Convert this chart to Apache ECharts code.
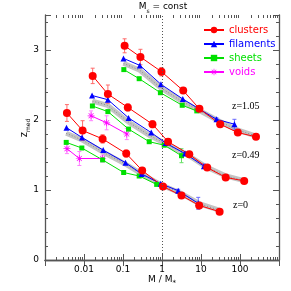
<!DOCTYPE html>
<html><head><meta charset="utf-8">
<script src="https://cdn.jsdelivr.net/npm/echarts@6/dist/echarts.min.js"></script>
<style>html,body{margin:0;padding:0;background:#fff}#c{width:291px;height:291px}</style>
</head><body><div id="c"></div>
<script>
// ---- data (M / M*, z_med, error) ----
const clusters_z105_M = [0.11, 0.28, 0.97, 3.5, 9.1, 31, 88, 257];
const clusters_z105_z = [3.06, 2.90, 2.69, 2.42, 2.16, 1.94, 1.82, 1.76];
const clusters_z105_e = [0.10, 0.11, 0.06, 0.04, 0.03, 0.02, 0.02, 0.02];
const filaments_z105_M = [0.103, 0.27, 0.94, 3.42, 8.8, 25, 72];
const filaments_z105_z = [2.88, 2.78, 2.51, 2.30, 2.16, 2.01, 1.94];
const filaments_z105_e = [0, 0, 0, 0, 0, 0.02, 0.07];
const sheets_z105_M = [0.105, 0.26, 0.91, 3.3, 7.8];
const sheets_z105_z = [2.72, 2.59, 2.39, 2.21, 2.13];
const sheets_z105_e = [0, 0, 0, 0, 0];
const band_z105_M = [0.103, 0.27, 0.93, 3.4, 8.8, 25.7, 75, 260];
const band_z105_z = [2.81, 2.71, 2.46, 2.26, 2.14, 2.00, 1.87, 1.77];

const clusters_z049_M = [0.0167, 0.041, 0.133, 0.57, 1.43, 5.0, 14.4, 43, 128];
const clusters_z049_z = [2.63, 2.37, 2.18, 1.94, 1.69, 1.51, 1.32, 1.18, 1.13];
const clusters_z049_e = [0.11, 0.13, 0.05, 0.05, 0.03, 0.02, 0.02, 0.02, 0.02];
const filaments_z049_M = [0.0161, 0.041, 0.139, 0.53, 1.25, 3.9, 11.9];
const filaments_z049_z = [2.35, 2.29, 2.03, 1.82, 1.67, 1.52, 1.34];
const filaments_z049_e = [0, 0, 0, 0, 0, 0, 0.03];
const sheets_z049_M = [0.0164, 0.041, 0.139, 0.47, 1.14, 3.16];
const sheets_z049_z = [2.20, 2.12, 1.87, 1.69, 1.64, 1.49];
const sheets_z049_e = [0, 0, 0, 0, 0, 0.10];
const voids_z049_M = [0.0152, 0.038, 0.125];
const voids_z049_z = [2.06, 1.96, 1.80];
const voids_z049_e = [0.07, 0.10, 0.08];
const band_z049_M = [0.0164, 0.04, 0.139, 0.51, 1.25, 4.6, 13.4, 44, 135];
const band_z049_z = [2.27, 2.21, 1.97, 1.77, 1.66, 1.50, 1.33, 1.20, 1.13];

const clusters_z0_M = [0.00365, 0.0092, 0.030, 0.121, 0.31, 1.06, 3.16, 9.0, 30];
const clusters_z0_z = [2.10, 1.85, 1.73, 1.52, 1.28, 1.05, 0.92, 0.78, 0.69];
const clusters_z0_e = [0.12, 0.14, 0.06, 0.05, 0.04, 0.02, 0.02, 0.02, 0.02];
const filaments_z0_M = [0.00356, 0.0089, 0.031, 0.116, 0.30, 0.93, 2.6, 8.5];
const filaments_z0_z = [1.89, 1.75, 1.57, 1.39, 1.23, 1.09, 0.99, 0.81];
const filaments_z0_e = [0, 0, 0, 0, 0, 0, 0.02, 0.085];
const sheets_z0_M = [0.0035, 0.0088, 0.030, 0.104, 0.26, 0.73];
const sheets_z0_z = [1.68, 1.60, 1.43, 1.25, 1.20, 1.08];
const sheets_z0_e = [0, 0, 0, 0, 0, 0];
const voids_z0_M = [0.00365, 0.0076, 0.030];
const voids_z0_z = [1.59, 1.45, 1.45];
const voids_z0_e = [0.07, 0.10, 0.05];
const band_z0_M = [0.0035, 0.0093, 0.031, 0.116, 0.30, 0.98, 2.86, 9.4, 30.6];
const band_z0_z = [1.81, 1.71, 1.54, 1.37, 1.23, 1.07, 0.96, 0.80, 0.71];

const xMajorTicks = [0.001, 0.01, 0.1, 1, 10, 100, 1000];
const xTickLabels = [0.01, 0.1, 1, 10, 100];
const yTickLabels = [0, 1, 2, 3];
const redshiftLabels = ['z=1.05', 'z=0.49', 'z=0'];
const legendNames = ['clusters', 'filaments', 'sheets', 'voids'];

// ---- build ----
const FONT = 'DejaVu Sans';
const SERIF = 'Liberation Serif';
const xMinorTicks = [];
for (let d = -3; d < 3; d++) for (let k = 2; k <= 9; k++) xMinorTicks.push(+(k * Math.pow(10, d)).toPrecision(3));

const asterisk = 'path://M-0.8,-8L0.8,-8L0.8,8L-0.8,8Z M-8,-0.8L8,-0.8L8,0.8L-8,0.8Z M-6.2,-5.1L-5.1,-6.2L6.2,5.1L5.1,6.2Z M5.1,-6.2L6.2,-5.1L-5.1,6.2L-6.2,5.1Z';

const types = {
  voids:     {color: '#ff00ff', err: '#ff80ff', symbol: asterisk, size: 7},
  sheets:    {color: '#00e000', err: '#66e066', symbol: 'rect', size: 5},
  filaments: {color: '#0000ff', err: '#6a6aff', symbol: 'triangle', size: 6},
  clusters:  {color: '#ff0000', err: '#ff6a6a', symbol: 'circle', size: 8}
};
const sets = {
  voids: [[voids_z049_M, voids_z049_z, voids_z049_e], [voids_z0_M, voids_z0_z, voids_z0_e]],
  sheets: [[sheets_z105_M, sheets_z105_z, sheets_z105_e], [sheets_z049_M, sheets_z049_z, sheets_z049_e], [sheets_z0_M, sheets_z0_z, sheets_z0_e]],
  filaments: [[filaments_z105_M, filaments_z105_z, filaments_z105_e], [filaments_z049_M, filaments_z049_z, filaments_z049_e], [filaments_z0_M, filaments_z0_z, filaments_z0_e]],
  clusters: [[clusters_z105_M, clusters_z105_z, clusters_z105_e], [clusters_z049_M, clusters_z049_z, clusters_z049_e], [clusters_z0_M, clusters_z0_z, clusters_z0_e]]
};
const bands = [[band_z105_M, band_z105_z], [band_z049_M, band_z049_z], [band_z0_M, band_z0_z]];

function renderErr(params, api) {
  const x = api.value(0), lo = api.value(1), hi = api.value(2);
  const p1 = api.coord([x, lo]), p2 = api.coord([x, hi]);
  const cap = 2;
  const style = {stroke: api.visual('color'), lineWidth: 1, fill: null};
  return {type: 'group', children: [
    {type: 'line', shape: {x1: p1[0], y1: p1[1], x2: p2[0], y2: p2[1]}, style},
    {type: 'line', shape: {x1: p1[0] - cap, y1: p1[1], x2: p1[0] + cap, y2: p1[1]}, style},
    {type: 'line', shape: {x1: p2[0] - cap, y1: p2[1], x2: p2[0] + cap, y2: p2[1]}, style}
  ]};
}

const series = [];
bands.forEach(([M, z]) => {
  series.push({type: 'line', name: 'band', data: M.map((m, i) => [m, z[i]]), symbol: 'none', silent: true,
    lineStyle: {color: '#c4c4c4', width: 5}, z: 1});
  series.push({type: 'line', name: 'band2', data: M.map((m, i) => [m, z[i]]), symbol: 'none', silent: true,
    lineStyle: {color: '#8a8a8a', width: 1, type: [1, 2]}, z: 1});
});
Object.keys(types).forEach(t => {
  const st = types[t];
  sets[t].forEach(([M, z, e]) => {
    const errData = [];
    M.forEach((m, i) => { if (e[i] > 0) errData.push([m, z[i] - e[i], z[i] + e[i]]); });
    if (errData.length) series.push({type: 'custom', name: 'err-' + t, data: errData, renderItem: renderErr,
      itemStyle: {color: st.err}, silent: true, z: 2});
    series.push({type: 'line', name: t, data: M.map((m, i) => [m, z[i]]), symbol: st.symbol, symbolSize: st.size,
      showAllSymbol: true, itemStyle: {color: st.color}, lineStyle: {color: st.color, width: 1}, z: 3});
  });
});
series[series.length - 1].markLine = {silent: true, symbol: 'none', label: {show: false},
  lineStyle: {color: '#555', type: [1, 2], width: 1}, data: [{xAxis: 1}]};

const axisCol = '#555';
function xAx(pos, major, labels) {
  return {type: 'log', logBase: 10, min: 0.001, max: 1000, position: pos, gridIndex: 0,
    axisLine: {show: major, lineStyle: {color: axisCol, width: 1.3}},
    axisTick: {show: true, inside: true, length: major ? 6 : 3, lineStyle: {color: axisCol},
      customValues: major ? xMajorTicks : xMinorTicks},
    axisLabel: labels ? {show: true, customValues: xTickLabels, color: '#000', fontSize: 9, fontFamily: FONT, margin: 5,
      formatter: v => v >= 1 ? String(Math.round(v)) : String(+(+v).toPrecision(1))} : {show: false},
    splitLine: {show: false}, minorTick: {show: false}, minorSplitLine: {show: false}};
}
function yAx(pos, labels) {
  return {type: 'value', min: 0, max: 3.5, interval: 1, position: pos,
    axisLine: {show: true, lineStyle: {color: axisCol, width: 1.3}},
    axisTick: {show: true, inside: true, length: 6, lineStyle: {color: axisCol}},
    minorTick: {show: true, splitNumber: 5, length: 3, lineStyle: {color: axisCol}},
    axisLabel: labels ? {show: true, color: '#000', fontSize: 9, fontFamily: FONT, margin: 6,
      formatter: v => yTickLabels.indexOf(v) >= 0 ? String(v) : ''} : {show: false},
    splitLine: {show: false}};
}

const txt = (text, x, y) => ({type: 'text', x, y, silent: true,
  style: {text, fill: '#000', font: '10px "' + SERIF + '"', textAlign: 'left', textVerticalAlign: 'middle'}});

const option = {
  animation: false,
  backgroundColor: '#fff',
  grid: {left: 45, right: 12, top: 15, bottom: 31, containLabel: false},
  xAxis: [xAx('bottom', true, true), xAx('top', true, false), xAx('bottom', false, false), xAx('top', false, false)],
  yAxis: [yAx('left', true), yAx('right', false)],
  legend: {orient: 'vertical', left: 203, top: 25, padding: 0, itemWidth: 20, itemHeight: 8, itemGap: 4, selectedMode: false,
    textStyle: {fontSize: 10, fontFamily: FONT, lineHeight: 10, padding: 0},
    data: legendNames.map(n => ({name: n, textStyle: {color: types[n].color}}))},
  series,
  graphic: [
    {type: 'text', x: 163, y: 8, silent: true, style: {text: '{a|M}{b|s}{a| = const}', textAlign: 'center', textVerticalAlign: 'middle',
      rich: {a: {fontSize: 9, fontFamily: FONT, fill: '#000', lineHeight: 12, verticalAlign: 'top'}, b: {fontSize: 6, fontFamily: FONT, fill: '#000', lineHeight: 12, verticalAlign: 'bottom'}}}},
    {type: 'text', x: 162, y: 281, silent: true, style: {text: '{a|M / M}{b|*}', textAlign: 'center', textVerticalAlign: 'middle',
      rich: {a: {fontSize: 9, fontFamily: FONT, fill: '#000', lineHeight: 12, verticalAlign: 'top'}, b: {fontSize: 7, fontFamily: FONT, fill: '#000', lineHeight: 12, verticalAlign: 'bottom'}}}},
    {type: 'text', x: 25, y: 128, rotation: Math.PI / 2, silent: true, style: {text: '{a|z}{b|med}', textAlign: 'center', textVerticalAlign: 'middle',
      rich: {a: {fontSize: 10, fontFamily: FONT, fill: '#000', lineHeight: 12, verticalAlign: 'top'}, b: {fontSize: 6, fontFamily: FONT, fill: '#000', lineHeight: 12, verticalAlign: 'bottom'}}}},
    txt(redshiftLabels[0], 232, 106),
    txt(redshiftLabels[1], 232, 155),
    txt(redshiftLabels[2], 233, 205)
  ]
};
const chart = echarts.init(document.getElementById('c'), null, {renderer: 'canvas'});
chart.setOption(option);
</script></body></html>
